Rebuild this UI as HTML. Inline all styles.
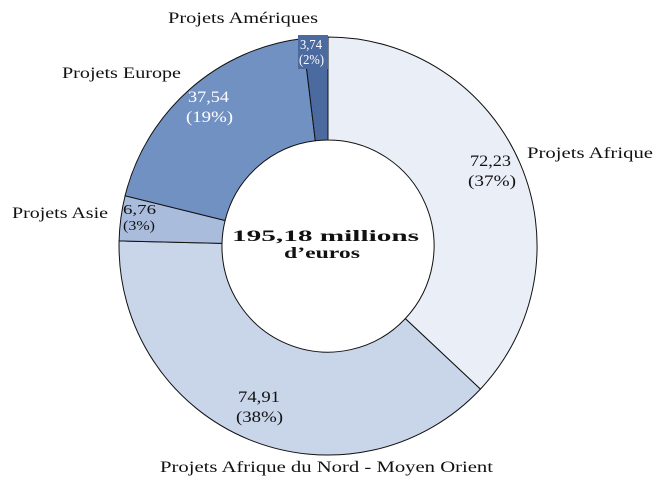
<!DOCTYPE html>
<html><head><meta charset="utf-8"><style>
body{margin:0;background:#fff;}
svg{display:block;font-family:"Liberation Serif",serif;}
</style></head><body>
<svg width="664" height="489" viewBox="0 0 664 489">
<g stroke="#111" stroke-width="1">
<path d="M328,37 A209,209 0 0 1 480.4,389.1 L405.3,318.6 A106,106 0 0 0 328,140 Z" fill="#e9eef7"/>
<path d="M480.4,389.1 A209,209 0 0 1 119.1,240.9 L222,243.4 A106,106 0 0 0 405.3,318.6 Z" fill="#c9d5e9"/>
<path d="M119.1,240.9 A209,209 0 0 1 125.1,195.8 L225.1,220.5 A106,106 0 0 0 222,243.4 Z" fill="#a9bcdc"/>
<path d="M125.1,195.8 A209,209 0 0 1 302.9,38.5 L315.3,140.8 A106,106 0 0 0 225.1,220.5 Z" fill="#7191c2"/>
<path d="M302.9,38.5 A209,209 0 0 1 328,37 L328,140 A106,106 0 0 0 315.3,140.8 Z" fill="#4a6aa0"/>
</g>
<rect x="298" y="35" width="30" height="34" fill="#4a6aa0"/>
<g font-size="16" fill="#111" lengthAdjust="spacingAndGlyphs">
<text x="168" y="23" textLength="150" lengthAdjust="spacingAndGlyphs">Projets Amériques</text>
<text x="62" y="78" textLength="119" lengthAdjust="spacingAndGlyphs">Projets Europe</text>
<text x="12" y="218" textLength="96" lengthAdjust="spacingAndGlyphs">Projets Asie</text>
<text x="527" y="158" textLength="126" lengthAdjust="spacingAndGlyphs">Projets Afrique</text>
<text x="160" y="472" textLength="333" lengthAdjust="spacingAndGlyphs">Projets Afrique du Nord - Moyen Orient</text>
<text x="470" y="166" textLength="41" lengthAdjust="spacingAndGlyphs">72,23</text>
<text x="468" y="186" textLength="48" lengthAdjust="spacingAndGlyphs">(37%)</text>
<text x="238" y="402" textLength="42" lengthAdjust="spacingAndGlyphs">74,91</text>
<text x="236" y="422" textLength="47" lengthAdjust="spacingAndGlyphs">(38%)</text>
<text x="123" y="214" font-size="14" textLength="33" lengthAdjust="spacingAndGlyphs">6,76</text>
<text x="123" y="230" font-size="14" textLength="32" lengthAdjust="spacingAndGlyphs">(3%)</text>
</g>
<g fill="#fff" font-size="16">
<text x="188" y="102" textLength="41" lengthAdjust="spacingAndGlyphs">37,54</text>
<text x="186" y="122" textLength="47" lengthAdjust="spacingAndGlyphs">(19%)</text>
<text x="300" y="49" font-size="14" textLength="22" lengthAdjust="spacingAndGlyphs">3,74</text>
<text x="299" y="64" font-size="14" textLength="25" lengthAdjust="spacingAndGlyphs">(2%)</text>
</g>
<g font-size="16" font-weight="bold" fill="#111">
<text x="232" y="241" textLength="187" lengthAdjust="spacingAndGlyphs">195,18 millions</text>
<text x="284" y="258" textLength="76" lengthAdjust="spacingAndGlyphs">d’euros</text>
</g>
</svg>
</body></html>
